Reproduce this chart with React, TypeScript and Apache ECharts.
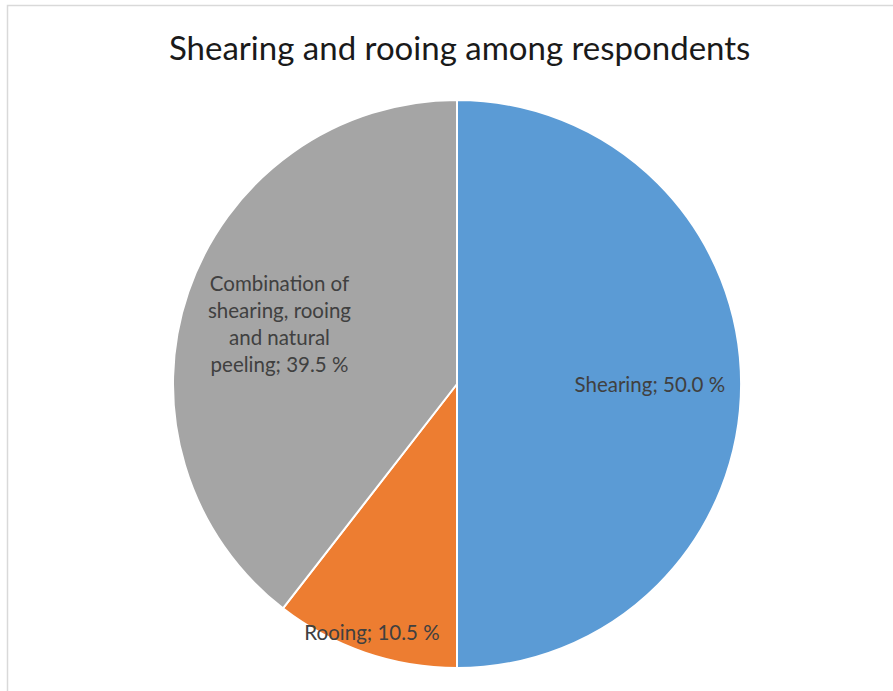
import React, { useEffect, useRef } from "react";
import * as echarts from "echarts";

const categories = ["Shearing", "Rooing", "Combination of shearing, rooing and natural peeling"];
const labelNames = ["Shearing", "Rooing", "Combination of\nshearing, rooing\nand natural\npeeling"];
const values = [50.0, 10.5, 39.5];
const colors = ["#5B9BD5", "#ED7D31", "#A5A5A5"];
const labelRadiusFrac = [0.665, 0.905, 0.647];

const CX = 457;
const CY = 384;
const R = 284;

export default function App() {
  const ref = useRef<HTMLDivElement>(null);
  useEffect(() => {
    if (!ref.current) return;
    const chart = echarts.init(ref.current, undefined, { renderer: "svg" });
    chart.setOption({
      animation: false,
      backgroundColor: "#ffffff",
      title: {
        text: "Shearing and rooing among respondents",
        left: 164,
        top: 25,
        textStyle: { fontFamily: "Lato", fontSize: 33, fontWeight: "normal", color: "#1a1a1a" },
      },
      graphic: [
        {
          type: "rect",
          shape: { x: 7.5, y: 5.5, width: 1000, height: 1000 },
          style: { fill: "none", stroke: "#d9d9d9", lineWidth: 1.5 },
          silent: true,
        },
      ],
      series: [
        {
          type: "pie",
          center: [CX, CY],
          radius: [0, R],
          startAngle: 90,
          clockwise: true,
          itemStyle: { borderColor: "#ffffff", borderWidth: 2 },
          label: {
            show: true,
            position: "inside",
            fontFamily: "Lato",
            fontSize: 20.5,
            color: "#404040",
            lineHeight: 27,
            align: "center",
            formatter: (p: any) => `${labelNames[p.dataIndex]}; ${Number(p.value).toFixed(1)} %`,
          },
          labelLayout: (p: any) => {
            const f = labelRadiusFrac[p.dataIndex];
            const lx = p.labelRect.x + p.labelRect.width / 2;
            const ly = p.labelRect.y + p.labelRect.height / 2;
            const k = f / 0.5 - 1;
            return { dx: (lx - CX) * k, dy: (ly - CY) * k };
          },
          emphasis: { disabled: true },
          data: categories.map((c, i) => ({ name: c, value: values[i], itemStyle: { color: colors[i] } })),
        },
      ],
    });
    return () => chart.dispose();
  }, []);
  return <div ref={ref} style={{ position: "absolute", left: 0, top: 0, width: 893, height: 691 }} />;
}
